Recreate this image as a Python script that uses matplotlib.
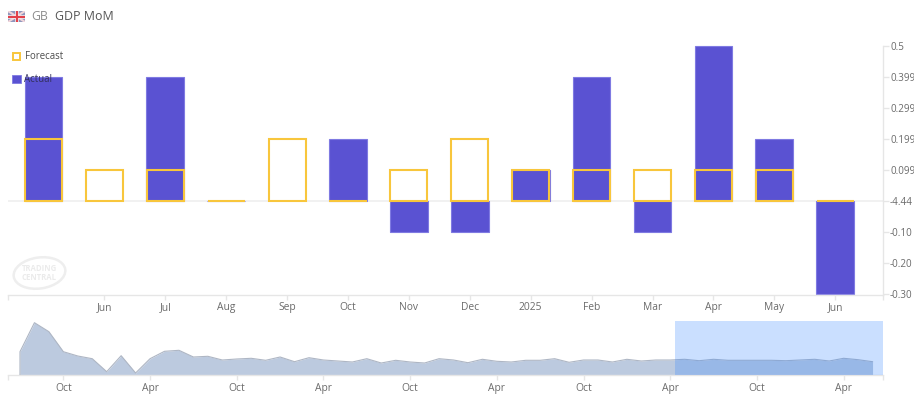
import numpy as np
import matplotlib
matplotlib.use("Agg")
import matplotlib.pyplot as plt
from matplotlib.patches import Rectangle, Ellipse

plt.rcParams['font.family'] = ['Open Sans', 'DejaVu Sans']

# ---------- data ----------
months = ["May", "Jun", "Jul", "Aug", "Sep", "Oct", "Nov", "Dec", "2025", "Feb", "Mar", "Apr", "May", "Jun"]
actual = [0.4, np.nan, 0.4, 0.0, np.nan, 0.2, -0.1, -0.1, 0.1, 0.4, -0.1, 0.5, 0.2, -0.3]
forecast = [0.2, 0.1, 0.1, 0.0, 0.2, 0.0, 0.1, 0.2, 0.1, 0.1, 0.1, 0.1, 0.1, 0.0]
ytick_values = [0.5, 0.4, 0.3, 0.2, 0.1, 0.0, -0.1, -0.2, -0.3]
ytick_labels = ["0.5", "0.399", "0.299", "0.199", "0.099", "-4.44", "-0.10", "-0.20", "-0.30"]
history = [23.3, 52.3, 43.3, 23.3, 19, 16.3, 3.3, 19.3, 2, 16.3, 23.7, 24.7, 18, 18.7, 15,
           16, 16.7, 14.7, 18, 13.3, 17.3, 15, 14, 13, 16.3, 12, 14.7, 13, 12, 16.3, 15,
           12.3, 15.7, 13.7, 13, 14.7, 14.7, 16.3, 12.7, 15, 15, 13, 15.7, 14, 15,
           15, 15.7, 14.3, 15.7, 14.7, 14.7, 14.7, 14.7, 14.3, 15, 15.7, 14, 16.7, 15.3, 13.3]
nav_labels = ["Oct", "Apr", "Oct", "Apr", "Oct", "Apr", "Oct", "Apr", "Oct", "Apr"]
nav_ticks = [3, 9, 15, 21, 27, 33, 39, 45, 51, 57]

W, H = 914, 394
BAR = "#5a52d2"; BAR_EDGE = "#7f7ae2"; GOLD = "#f8c63c"
AXIS = "#e6e6e6"; LABEL = "#6b6b6b"

fig = plt.figure(figsize=(W / 100, H / 100), dpi=100, facecolor="white")

def axes_px(x0, y0, x1, y1, **kw):
    return fig.add_axes([x0 / W, 1 - y1 / H, (x1 - x0) / W, (y1 - y0) / H], **kw)

# ---------- main chart ----------
ax = axes_px(8, 46, 883, 295)
x = np.arange(len(months))
step = 60.9
ax.set_xlim((8 - 43.5) / step, (883 - 43.5) / step)
ax.set_ylim(-0.3032, 0.5)
ax.axhline(0, color="#f1f1f1", lw=1.4, zorder=1)
ax.bar(x, actual, width=0.62, color=BAR, edgecolor=BAR_EDGE, linewidth=0.8, zorder=2, clip_on=False)
ax.bar(x, forecast, width=0.61, facecolor="none", edgecolor=GOLD, linewidth=1.5, zorder=3, clip_on=False)

for s in ("top", "left"):
    ax.spines[s].set_visible(False)
for s in ("bottom", "right"):
    ax.spines[s].set_color(AXIS)
    ax.spines[s].set_linewidth(1.0)
ax.yaxis.tick_right()
ax.set_yticks(ytick_values, ytick_labels)
ax.tick_params(axis="y", length=4.3, width=1.0, color=AXIS, labelcolor=LABEL, labelsize=7.1, pad=0.8)
xl = ax.get_xlim()
ax.set_xticks([xl[0]] + list(x[1:]) + [xl[1]], [""] + months[1:] + [""])
ax.tick_params(axis="x", length=3.8, width=1.0, color=AXIS, labelcolor=LABEL, labelsize=7.4, pad=1.4)

# ---------- navigator ----------
nav = axes_px(8, 321, 883, 375)
idx = np.arange(len(history))
nstep = 14.45
nav.set_xlim((8 - 20) / nstep, (883 - 20) / nstep)
nav.set_ylim(0, 54)
nav.fill_between(idx, history, 0, color="#bccadf", lw=0, zorder=2)
nav.plot(np.r_[idx[0], idx], np.r_[0, history], color="#aeb6c4", lw=0.8, zorder=3)
nav.axvspan((675 - 20) / nstep, (883 - 20) / nstep, facecolor="#3385ff", alpha=0.26, lw=0, zorder=4)
for s in ("top", "left", "right"):
    nav.spines[s].set_visible(False)
nav.spines["bottom"].set_color(AXIS)
nav.spines["bottom"].set_linewidth(1.0)
nav.patch.set_alpha(0)
nxl = nav.get_xlim()
nav.set_xticks([nxl[0]] + nav_ticks + [nxl[1]], [""] + nav_labels + [""])
nav.tick_params(axis="x", length=3.8, width=1.0, color=AXIS, labelcolor=LABEL, labelsize=7.4, pad=2.2)
nav.set_yticks([])

# ---------- overlay: header, legend, watermark ----------
ov = fig.add_axes([0, 0, 1, 1], zorder=10)
ov.set_xlim(0, W); ov.set_ylim(H, 0); ov.axis("off"); ov.patch.set_alpha(0)

ov.text(31, 16.5, "GB", fontsize=8.8, color="#8c8c8c", va="center", ha="left")
ov.text(55, 16.5, "GDP MoM", fontsize=8.9, color="#555555", va="center", ha="left")

ov.add_patch(Rectangle((12.5, 52.5), 7.5, 7.5, facecolor="white", edgecolor=GOLD, lw=1.4))
ov.add_patch(Rectangle((12, 74.5), 8.5, 8.5, facecolor=BAR, edgecolor=BAR_EDGE, lw=0.6))
ov.text(24.5, 56.8, "Forecast", fontsize=6.9, color="#4d4d4d", va="center", ha="left")
ov.text(24.5, 79.3, "Actual", fontsize=6.9, color="#33305e", va="center", ha="left")

ov.add_patch(Ellipse((39.5, 273), 52, 31, angle=-8, facecolor="none", edgecolor="#eeeeee", lw=1.8))
ov.text(39, 273, "TRADING\nCENTRAL", fontsize=5.6, fontweight="bold", color="#ebebeb",
        va="center", ha="center", linespacing=0.95)

# flag
fl = axes_px(8, 11, 25, 22, zorder=11)
fl.set_xlim(0, 1); fl.set_ylim(0, 1); fl.axis("off")
fl.add_patch(Rectangle((0, 0), 1, 1, facecolor="#8f97bd", lw=0))
for a, b in (((0, 1), (0, 1)), ((0, 1), (1, 0))):
    fl.plot(a, b, color="#f0d5da", lw=1.5, solid_capstyle="butt")
fl.plot([0.5, 0.5], [0, 1], color="#f6f0f0", lw=2.6, solid_capstyle="butt")
fl.plot([0, 1], [0.5, 0.5], color="#f6f0f0", lw=2.6, solid_capstyle="butt")
fl.plot([0.5, 0.5], [0, 1], color="#e2404a", lw=1.5, solid_capstyle="butt")
fl.plot([0, 1], [0.5, 0.5], color="#e2404a", lw=1.5, solid_capstyle="butt")

fig.savefig("out.png", dpi=100, facecolor="white")
